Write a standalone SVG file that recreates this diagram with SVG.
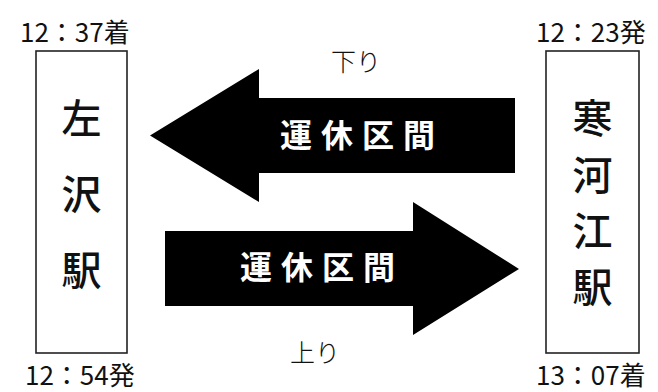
<svg xmlns="http://www.w3.org/2000/svg" width="658" height="392" viewBox="0 0 658 392">
<style>
.box{fill:#fff;stroke:#222;stroke-width:1.6}
.arrow{fill:#000}
.t{font-family:"Noto Sans CJK JP","Noto Sans",sans-serif;fill:#111}
.time{font-size:26px}
.st{font-size:40px;text-anchor:middle;font-weight:500}
.dir{font-size:25px;font-weight:300}
.band{font-family:"Noto Sans CJK JP","Noto Sans",sans-serif;font-weight:bold;font-size:32px;fill:#fff;letter-spacing:9px}
</style>
<rect width="658" height="392" fill="#fff"/>
<g id="connectors">
<polygon class="arrow" points="515,98 259,98 259,69 150,135.5 259,202 259,173 515,173"/>
<polygon class="arrow" points="165,231 413,231 413,202 519,269 413,335 413,306 165,306"/>
<text class="band" x="280" y="147">運休区間</text>
<text class="band" x="240" y="279">運休区間</text>
<text class="t dir" x="331" y="71">下り</text>
<text class="t dir" x="290" y="362">上り</text>
</g>
<g id="hidarisawa">
<rect class="box" x="36" y="51" width="91" height="302"/>
<text class="t st" x="81.5" y="133">左</text>
<text class="t st" x="81.5" y="209">沢</text>
<text class="t st" x="81.5" y="285">駅</text>
<text class="t time" x="20" y="42">12：37着</text>
<text class="t time" x="25" y="385">12：54発</text>
</g>
<g id="sagae">
<rect class="box" x="546" y="51" width="93" height="302"/>
<text class="t st" x="592.5" y="133">寒</text>
<text class="t st" x="592.5" y="190">河</text>
<text class="t st" x="592.5" y="246">江</text>
<text class="t st" x="592.5" y="302">駅</text>
<text class="t time" x="536" y="42">12：23発</text>
<text class="t time" x="536" y="385">13：07着</text>
</g>
</svg>
